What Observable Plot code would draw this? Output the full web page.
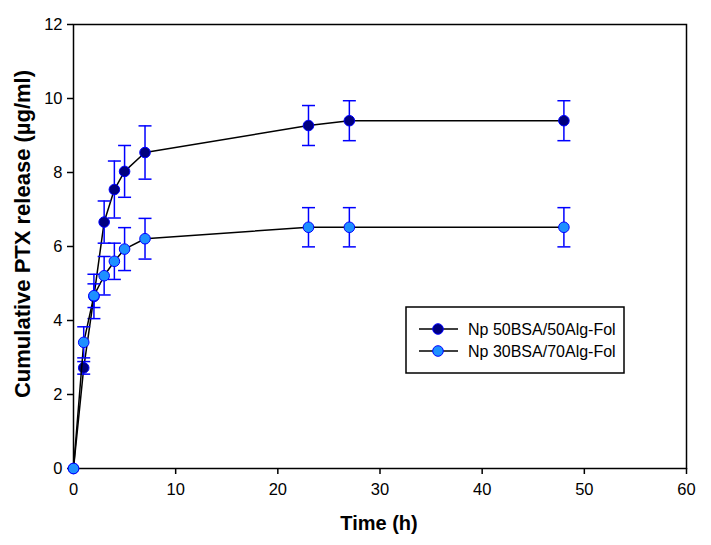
<!DOCTYPE html>
<html>
<head>
<meta charset="utf-8">
<script src="https://cdn.jsdelivr.net/npm/d3@7"></script>
<script src="https://cdn.jsdelivr.net/npm/@observablehq/plot@0.6"></script>
<style>
  html, body { margin: 0; padding: 0; background: #fff; }
  #chart { width: 711px; height: 545px; }
  svg { font-family: "Liberation Sans", Arial, sans-serif; }
</style>
</head>
<body>
<div id="chart"></div>
<script>
// ---- data ----
const time = [0, 1, 2, 3, 4, 5, 7, 23, 27, 48];
const np50 = [0, 2.72, 4.65, 6.66, 7.54, 8.03, 8.54, 9.27, 9.40, 9.40];
const np50Err = [0, 0.17, 0.60, 0.57, 0.77, 0.70, 0.72, 0.54, 0.54, 0.54];
const np30 = [0, 3.41, 4.67, 5.21, 5.60, 5.93, 6.21, 6.52, 6.52, 6.52];
const np30Err = [0, 0.42, 0.32, 0.52, 0.49, 0.58, 0.55, 0.53, 0.53, 0.53];
const seriesNames = ["Np 50BSA/50Alg-Fol", "Np 30BSA/70Alg-Fol"];
const xTicks = [0, 10, 20, 30, 40, 50, 60];
const yTicks = [0, 2, 4, 6, 8, 10, 12];

const s1 = time.map((t, i) => ({t, v: np50[i], e: np50Err[i]}));
const s2 = time.map((t, i) => ({t, v: np30[i], e: np30Err[i]}));

const fills = ["#000080", "#1e90ff"];
const errColor = "#0000ff";

const cap = {draw(ctx) { ctx.moveTo(-6.5, 0); ctx.lineTo(6.5, 0); }};

function seriesMarks(data, fill) {
  const withErr = data.filter(d => d.e > 0);
  return [
    Plot.line(data, {x: "t", y: "v", stroke: "black", strokeWidth: 1.5}),
    Plot.ruleX(withErr, {x: "t", y1: d => d.v - d.e, y2: d => d.v + d.e, stroke: errColor, strokeWidth: 1.5}),
    Plot.dot(withErr, {x: "t", y: d => d.v + d.e, symbol: cap, r: 3, stroke: errColor, strokeWidth: 1.5, fill: "none"}),
    Plot.dot(withErr, {x: "t", y: d => d.v - d.e, symbol: cap, r: 3, stroke: errColor, strokeWidth: 1.5, fill: "none"}),
    Plot.dot(data, {x: "t", y: "v", r: 5.3, fill, stroke: errColor, strokeWidth: 1})
  ];
}

const plot = Plot.plot({
  width: 711,
  height: 545,
  marginLeft: 73,
  marginRight: 25,
  marginTop: 24,
  marginBottom: 77,
  style: {fontFamily: "Liberation Sans, Arial, sans-serif", fontSize: "16px", color: "black", background: "white"},
  x: {domain: [0, 60]},
  y: {domain: [0, 12]},
  marks: [
    Plot.axisX({ticks: xTicks, tickSize: 6, tickPadding: 9, label: null, fontSize: 16.5, stroke: "black", strokeWidth: 1.5}),
    Plot.axisY({ticks: yTicks, tickSize: 6, tickPadding: 5, label: null, fontSize: 16.5, stroke: "black", strokeWidth: 1.5}),
    Plot.frame({stroke: "black", strokeWidth: 1.5}),
    ...seriesMarks(s1, fills[0]),
    ...seriesMarks(s2, fills[1])
  ]
});

document.getElementById("chart").appendChild(plot);

// titles and legend
const svg = d3.select(plot);
svg.append("text")
  .attr("x", 379).attr("y", 530)
  .attr("text-anchor", "middle")
  .attr("font-weight", "bold").attr("font-size", 20).attr("fill", "black")
  .text("Time (h)");
svg.append("text")
  .attr("transform", "translate(30,234) rotate(-90)")
  .attr("text-anchor", "middle")
  .attr("font-weight", "bold").attr("font-size", 22).attr("fill", "black")
  .text("Cumulative PTX release (µg/ml)");

const lg = svg.append("g");
lg.append("rect").attr("x", 406).attr("y", 307).attr("width", 218).attr("height", 66)
  .attr("fill", "white").attr("stroke", "black").attr("stroke-width", 1.5);
seriesNames.forEach((name, i) => {
  const y = 329 + i * 22;
  lg.append("line").attr("x1", 419).attr("x2", 458).attr("y1", y).attr("y2", y)
    .attr("stroke", "black").attr("stroke-width", 1.5);
  lg.append("circle").attr("cx", 438).attr("cy", y).attr("r", 5.3)
    .attr("fill", fills[i]).attr("stroke", errColor).attr("stroke-width", 1);
  lg.append("text").attr("x", 468).attr("y", y).attr("dy", "0.35em")
    .attr("text-anchor", "start")
    .attr("font-size", 16).attr("fill", "black").text(name);
});
</script>
</body>
</html>
